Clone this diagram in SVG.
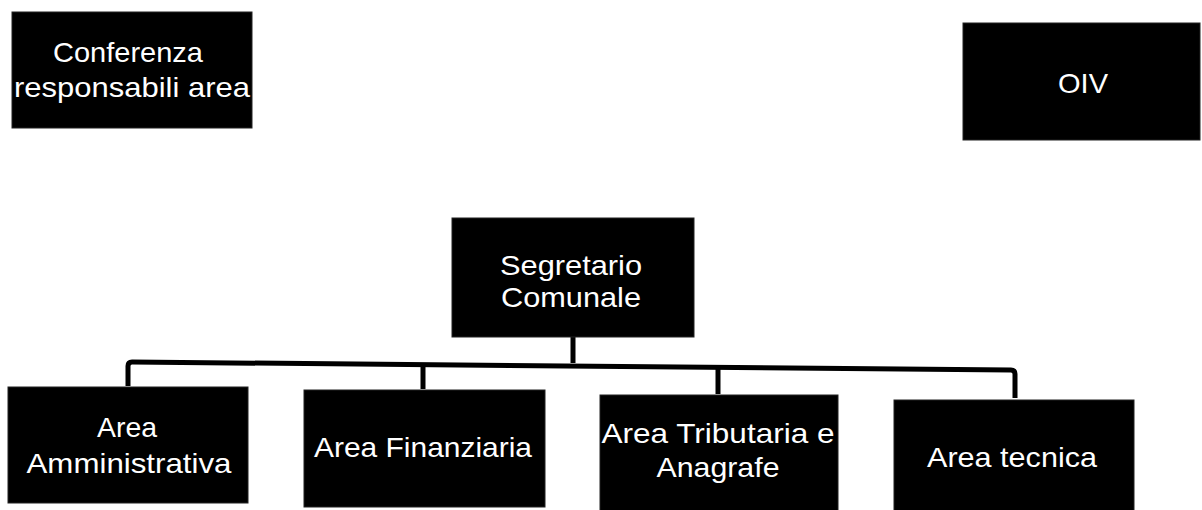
<svg xmlns="http://www.w3.org/2000/svg" width="1202" height="510" viewBox="0 0 1202 510">
  <style>
    .box { fill: #000; stroke: #222; stroke-width: 1; }
    .lbl { fill: #fff; font-family: "Liberation Sans", Arial, sans-serif; font-size: 28px; text-anchor: middle; }
    .conn { fill: none; stroke: #000; stroke-width: 5; stroke-linejoin: round; }
  </style>
  <rect width="1202" height="510" fill="#fff"/>
  <g id="connectors">
    <path class="conn" d="M573,337 L573,363"/>
    <path class="conn" d="M128,386 L128,366 Q128,362 132,362 L1011,370 Q1015,370 1015,374 L1015,398"/>
    <path class="conn" d="M423,363 L423,389"/>
    <path class="conn" d="M718,366 L718,394"/>
  </g>
  <g id="conferenza">
    <rect class="box" x="12" y="12" width="240" height="116"/>
    <text class="lbl" x="128" y="62" textLength="150" lengthAdjust="spacingAndGlyphs">Conferenza</text>
    <text class="lbl" x="132" y="97" textLength="236" lengthAdjust="spacingAndGlyphs">responsabili area</text>
  </g>
  <g id="oiv">
    <rect class="box" x="963" y="23" width="237" height="117"/>
    <text class="lbl" x="1083" y="93" textLength="50" lengthAdjust="spacingAndGlyphs">OIV</text>
  </g>
  <g id="segretario">
    <rect class="box" x="452" y="218" width="242" height="119"/>
    <text class="lbl" x="571" y="275" textLength="142" lengthAdjust="spacingAndGlyphs">Segretario</text>
    <text class="lbl" x="571" y="307" textLength="140" lengthAdjust="spacingAndGlyphs">Comunale</text>
  </g>
  <g id="area-amministrativa">
    <rect class="box" x="8" y="387" width="240" height="116"/>
    <text class="lbl" x="127" y="437" textLength="60" lengthAdjust="spacingAndGlyphs">Area</text>
    <text class="lbl" x="129" y="473" textLength="205" lengthAdjust="spacingAndGlyphs">Amministrativa</text>
  </g>
  <g id="area-finanziaria">
    <rect class="box" x="304" y="390" width="241" height="117"/>
    <text class="lbl" x="423" y="457" textLength="218" lengthAdjust="spacingAndGlyphs">Area Finanziaria</text>
  </g>
  <g id="area-tributaria">
    <rect class="box" x="600" y="395" width="238" height="117"/>
    <text class="lbl" x="718" y="443" textLength="233" lengthAdjust="spacingAndGlyphs">Area Tributaria e</text>
    <text class="lbl" x="718" y="477" textLength="123" lengthAdjust="spacingAndGlyphs">Anagrafe</text>
  </g>
  <g id="area-tecnica">
    <rect class="box" x="894" y="400" width="240" height="112"/>
    <text class="lbl" x="1012" y="467" textLength="170" lengthAdjust="spacingAndGlyphs">Area tecnica</text>
  </g>
</svg>
